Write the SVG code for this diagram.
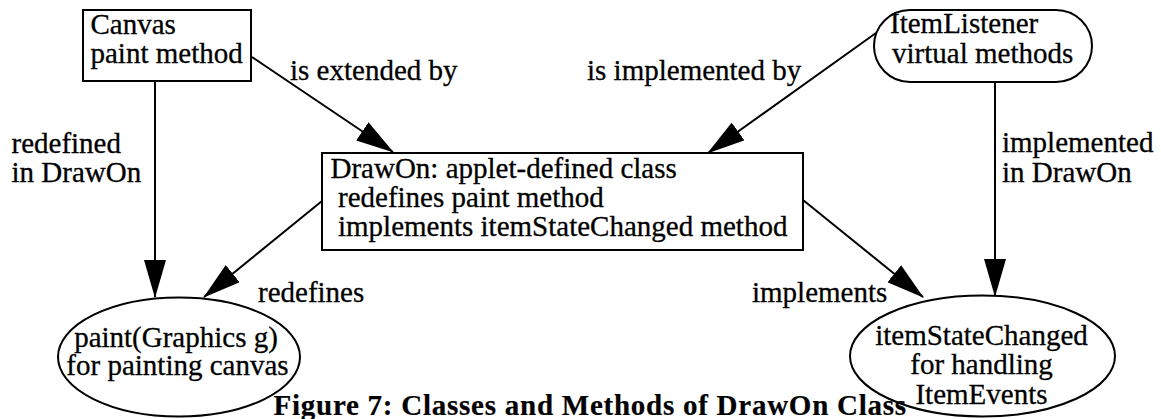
<svg xmlns="http://www.w3.org/2000/svg" width="1161" height="419" viewBox="0 0 1161 419">
  <style>
    .shape { fill: #fff; stroke: #000; stroke-width: 2; }
    .edge { fill: none; stroke: #000; stroke-width: 2; }
    text { font-family: "Liberation Serif", "Times New Roman", serif; font-size: 29px; fill: #000; stroke: #000; stroke-width: 0.3; }
    .mid { text-anchor: middle; }
    .caption { font-size: 29px; font-weight: bold; letter-spacing: 0.75px; stroke-width: 0.2; }
  </style>
  <defs>
    <marker id="arrow" markerUnits="userSpaceOnUse" viewBox="0 0 38 22" refX="37" refY="11" markerWidth="38" markerHeight="22" orient="auto">
      <path d="M0,0 L38,11 L0,22 Z" fill="#000"/>
    </marker>
  </defs>

  <rect width="1161" height="419" fill="#fff"/>

  <!-- connectors and their labels -->
  <g id="connectors">
    <line class="edge" x1="155" y1="82" x2="155" y2="297" marker-end="url(#arrow)"/>
    <line class="edge" x1="252" y1="57" x2="393" y2="152" marker-end="url(#arrow)"/>
    <line class="edge" x1="876" y1="33" x2="708" y2="153" marker-end="url(#arrow)"/>
    <line class="edge" x1="995" y1="82" x2="995" y2="296" marker-end="url(#arrow)"/>
    <line class="edge" x1="322" y1="201" x2="204" y2="297" marker-end="url(#arrow)"/>
    <line class="edge" x1="803" y1="200" x2="923" y2="297" marker-end="url(#arrow)"/>

    <text x="11.5" y="153">redefined</text>
    <text x="11.5" y="182">in DrawOn</text>
    <text x="290" y="80">is extended by</text>
    <text x="587" y="80">is implemented by</text>
    <text x="1002" y="152">implemented</text>
    <text x="1002" y="182">in DrawOn</text>
    <text x="258" y="302">redefines</text>
    <text x="752" y="302">implements</text>
  </g>

  <!-- Canvas class -->
  <g id="canvas">
    <rect class="shape" x="83" y="10" width="168" height="71"/>
    <text x="90.5" y="33.5">Canvas</text>
    <text x="90.5" y="63">paint method</text>
  </g>

  <!-- ItemListener interface -->
  <g id="itemlistener">
    <rect class="shape" x="874" y="10" width="218" height="72" rx="36" ry="36"/>
    <text x="890" y="33">ItemListener</text>
    <text x="892" y="63">virtual methods</text>
  </g>

  <!-- DrawOn class -->
  <g id="drawon">
    <rect class="shape" x="322" y="153" width="481" height="97"/>
    <text x="330.5" y="177.5">DrawOn: applet-defined class</text>
    <text x="338" y="206.5">redefines paint method</text>
    <text x="338" y="236">implements itemStateChanged method</text>
  </g>

  <!-- paint method -->
  <g id="paint">
    <ellipse class="shape" cx="179" cy="357" rx="121" ry="59.5"/>
    <text class="mid" x="176" y="346.5">paint(Graphics g)</text>
    <text class="mid" x="177.5" y="375">for painting canvas</text>
  </g>

  <!-- itemStateChanged method -->
  <g id="itemstatechanged">
    <ellipse class="shape" cx="982.5" cy="356" rx="132.5" ry="60.5"/>
    <text class="mid" x="981.5" y="345">itemStateChanged</text>
    <text class="mid" x="981.5" y="373.5">for handling</text>
    <text class="mid" x="981.5" y="404">ItemEvents</text>
  </g>

  <!-- caption -->
  <text class="caption" x="273.5" y="415">Figure 7: Classes and Methods of DrawOn Class</text>
</svg>
